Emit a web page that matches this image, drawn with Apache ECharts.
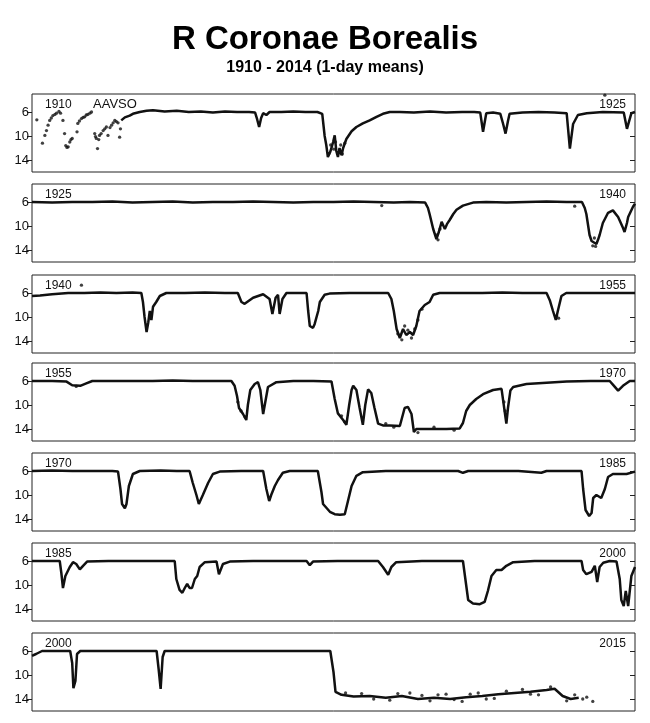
<!DOCTYPE html>
<html>
<head>
<meta charset="utf-8">
<script src="https://cdn.jsdelivr.net/npm/echarts@6/dist/echarts.min.js"></script>
<style>
  html, body { margin: 0; padding: 0; background: #fff; }
  #chart { width: 650px; height: 723px; }
</style>
</head>
<body>
<div id="chart"></div>
<script>
// panel start years (each panel spans 15 years)
const panelStarts = [1910, 1925, 1940, 1955, 1970, 1985, 2000];
const panelEndLabels = ['1925', '1940', '1955', '1970', '1985', '2000', '2015'];
const magTicks = [6, 10, 14];

// light curves, [year, magnitude]
const p1Dots = [[1910.12,7.3],[1910.26,11.2],[1910.32,9.9],[1910.36,9.1],[1910.40,8.2],[1910.44,7.4],[1910.48,7.0],[1910.52,6.6],[1910.57,6.4],[1910.61,6.2],[1910.67,5.9],[1910.71,6.2],[1910.77,7.4],[1910.81,9.6],[1910.84,11.6],[1910.87,11.9],[1910.90,11.8],[1910.94,11.0],[1910.97,10.6],[1911.00,10.4],[1911.12,9.3],[1911.14,7.9],[1911.18,7.5],[1911.23,7.1],[1911.27,6.9],[1911.31,6.8],[1911.35,6.5],[1911.39,6.4],[1911.44,6.2],[1911.48,6.0],[1911.56,9.6],[1911.58,10.1],[1911.60,10.4],[1911.63,12.1],[1911.66,10.6],[1911.68,9.9],[1911.72,9.6],[1911.77,9.1],[1911.81,8.8],[1911.85,8.5],[1911.89,9.9],[1911.94,8.6],[1911.98,8.2],[1912.02,7.8],[1912.06,7.4],[1912.10,7.6],[1912.14,7.8],[1912.18,10.2],[1912.20,8.8],
  [1917.38,13.0],[1917.43,11.5],[1917.51,12.2],[1917.55,11.0],[1917.63,12.8],[1917.68,11.5],[1917.72,13.0],[1917.78,11.2],[1924.25,3.2]];
const p1Line = [[1912.22,7.4],[1912.31,6.9],[1912.43,6.6],[1912.51,6.3],[1912.68,6.0],[1912.85,5.8],[1913.01,5.7],[1913.3,5.9],[1913.6,5.8],[1913.9,6.0],[1914.2,5.9],[1914.5,6.1],[1914.8,5.9],[1915.1,6.0],[1915.4,6.0],[1915.55,6.1],[1915.6,7.2],[1915.65,8.5],[1915.7,7.0],[1915.75,6.2],[1915.83,6.5],[1915.91,6.0],[1916.2,6.0],[1916.5,5.9],[1916.8,6.0],[1917.1,6.0],[1917.22,6.3],[1917.28,10.0],[1917.32,11.5],[1917.36,13.5],[1917.41,12.8],[1917.45,12.0],[1917.49,11.0],[1917.53,9.9],[1917.57,12.5],[1917.61,13.5],[1917.65,12.0],[1917.70,13.2],[1917.74,12.0],[1917.82,10.5],[1917.95,9.2],[1918.07,8.5],[1918.23,7.9],[1918.40,7.4],[1918.57,6.8],[1918.73,6.3],[1918.90,6.0],[1919.15,6.0],[1919.5,6.1],[1919.9,5.9],[1920.3,6.1],[1920.7,6.0],[1921.0,6.0],[1921.15,6.1],[1921.22,9.3],[1921.30,6.2],[1921.47,6.1],[1921.65,6.3],[1921.72,8.0],[1921.78,9.6],[1921.84,7.5],[1921.88,6.3],[1922.2,6.1],[1922.6,6.0],[1923.0,6.1],[1923.3,6.2],[1923.38,12.1],[1923.46,8.0],[1923.58,6.5],[1923.8,6.2],[1924.2,6.0],[1924.72,6.1],[1924.80,8.8],[1924.91,6.2],[1925.0,6.0]];

const p2Dots = [[1935.05,11.5],[1935.10,12.3],[1935.15,10.5],[1938.95,13.3],[1938.99,12.0],[1939.02,13.4],[1938.50,6.7],[1933.7,6.6]];
const p2Line = [[1925,6.0],[1925.5,6.1],[1926,6.0],[1926.5,6.0],[1927,5.9],[1927.5,6.1],[1928,6.0],[1928.5,5.9],[1929,6.1],[1929.5,6.0],[1930,6.0],[1930.5,5.9],[1931,6.0],[1931.5,6.1],[1932,6.0],[1932.5,6.0],[1933,5.9],[1933.5,6.0],[1934.0,6.1],[1934.4,6.0],[1934.78,6.1],[1934.85,7.0],[1934.89,8.0],[1934.98,10.5],[1935.06,12.2],[1935.12,11.0],[1935.19,9.3],[1935.23,9.6],[1935.27,10.5],[1935.33,9.6],[1935.39,9.0],[1935.48,8.0],[1935.56,7.3],[1935.72,6.6],[1935.97,6.1],[1936.3,6.0],[1936.8,6.1],[1937.3,6.0],[1937.8,5.9],[1938.3,6.0],[1938.68,6.0],[1938.75,7.0],[1938.79,8.0],[1938.87,11.5],[1938.92,12.5],[1938.96,12.8],[1939.04,13.0],[1939.08,12.3],[1939.12,11.5],[1939.20,9.5],[1939.33,7.8],[1939.45,7.4],[1939.58,8.5],[1939.70,10.3],[1939.74,11.0],[1939.80,9.5],[1939.83,8.5],[1939.95,6.8],[1940.0,6.3]];

const p3Dots = [[1941.23,4.7],[1949.10,12.8],[1949.20,13.8],[1949.27,11.5],[1949.35,12.2],[1949.44,13.5],[1949.52,12.0],[1949.60,10.5],[1949.70,8.7],[1953.05,9.8],[1953.10,10.2]];
const p3Line = [[1940,6.5],[1940.2,6.4],[1940.5,6.2],[1940.9,6.0],[1941.3,6.0],[1941.7,5.9],[1942.1,6.0],[1942.5,5.9],[1942.72,6.0],[1942.76,7.5],[1942.80,10.0],[1942.85,12.5],[1942.89,11.0],[1942.93,9.0],[1942.97,10.5],[1943.01,8.3],[1943.09,7.5],[1943.18,6.5],[1943.34,6.0],[1943.8,6.0],[1944.3,5.9],[1944.8,6.0],[1945.12,6.0],[1945.21,7.5],[1945.29,7.8],[1945.50,6.8],[1945.75,6.2],[1945.91,7.0],[1945.98,9.5],[1946.06,6.8],[1946.12,6.3],[1946.16,9.5],[1946.23,7.0],[1946.33,6.0],[1946.83,6.0],[1946.87,9.0],[1946.91,11.5],[1946.99,11.8],[1947.03,11.2],[1947.07,11.0],[1947.12,9.0],[1947.16,7.5],[1947.28,6.3],[1947.4,6.1],[1947.9,6.0],[1948.4,6.0],[1948.86,6.0],[1948.94,7.0],[1949.00,9.0],[1949.07,12.0],[1949.15,13.5],[1949.23,12.0],[1949.31,13.0],[1949.40,12.5],[1949.48,13.0],[1949.56,11.5],[1949.64,9.0],[1949.77,8.0],[1949.89,7.5],[1949.98,6.3],[1950.14,6.0],[1950.7,6.0],[1951.2,6.0],[1951.7,5.9],[1952.2,6.0],[1952.8,6.0],[1952.88,7.2],[1952.96,9.0],[1953.03,10.5],[1953.08,9.0],[1953.17,6.5],[1953.29,6.0],[1953.8,6.0],[1954.4,6.0],[1955,6.0]];

const p4Dots = [[1960.12,9.5],[1960.20,11.0],[1960.30,12.0],[1962.70,11.8],[1962.78,12.8],[1963.80,13.1],[1964.00,13.7],[1964.60,14.6],[1965.00,13.7],[1965.50,14.2],[1966.74,9.5],[1966.77,11.0],[1956.10,6.9]];
const p4Line = [[1955,6.0],[1955.5,6.0],[1955.86,6.1],[1956.0,6.7],[1956.2,6.8],[1956.35,6.4],[1956.5,6.0],[1957,6.0],[1957.5,6.0],[1958,6.0],[1958.5,5.9],[1959,6.0],[1959.5,6.0],[1959.96,6.0],[1960.04,6.8],[1960.10,8.5],[1960.15,10.5],[1960.25,11.5],[1960.33,12.5],[1960.37,10.0],[1960.43,7.5],[1960.54,6.5],[1960.62,6.2],[1960.68,7.5],[1960.75,11.5],[1960.79,10.0],[1960.87,7.0],[1961.08,6.2],[1961.5,6.0],[1962,6.0],[1962.45,6.1],[1962.53,9.0],[1962.61,11.4],[1962.74,12.5],[1962.82,13.3],[1962.89,10.0],[1962.95,7.5],[1962.99,6.8],[1963.07,7.5],[1963.15,10.5],[1963.23,13.3],[1963.29,10.0],[1963.36,7.4],[1963.44,8.0],[1963.52,10.5],[1963.61,13.1],[1963.73,13.4],[1963.90,13.4],[1964.15,13.5],[1964.27,10.5],[1964.35,10.3],[1964.44,11.5],[1964.50,14.5],[1964.56,14.0],[1964.89,14.0],[1965.31,14.0],[1965.64,13.9],[1965.72,13.0],[1965.80,11.0],[1965.89,10.0],[1966.05,9.0],[1966.22,8.2],[1966.47,7.5],[1966.68,7.3],[1966.72,7.6],[1966.80,13.1],[1966.84,10.5],[1966.90,7.6],[1966.97,7.0],[1967.3,6.5],[1967.8,6.3],[1968.3,6.1],[1968.9,6.0],[1969.37,6.0],[1969.45,6.6],[1969.58,7.6],[1969.70,6.8],[1969.87,6.0],[1970,6.0]];

const p5Dots = [];
const p5Line = [[1970,6.0],[1970.5,5.9],[1971,6.0],[1971.5,6.0],[1972.0,6.0],[1972.14,6.1],[1972.20,9.0],[1972.24,11.5],[1972.31,12.2],[1972.35,11.5],[1972.41,8.5],[1972.51,6.5],[1972.68,6.0],[1973.2,5.9],[1973.6,6.0],[1973.92,6.0],[1974.00,8.0],[1974.09,10.0],[1974.15,11.5],[1974.25,10.0],[1974.38,8.0],[1974.50,6.5],[1974.67,6.1],[1975.2,6.0],[1975.75,6.0],[1975.83,9.0],[1975.90,11.0],[1975.95,10.0],[1976.04,8.5],[1976.12,7.5],[1976.24,6.3],[1976.41,6.0],[1976.8,6.0],[1977.11,6.0],[1977.20,9.5],[1977.24,11.5],[1977.28,11.8],[1977.41,12.8],[1977.53,13.2],[1977.66,13.3],[1977.78,13.2],[1977.86,11.0],[1977.95,8.5],[1978.07,6.8],[1978.23,6.2],[1978.8,6.0],[1979.4,6.0],[1980.0,6.0],[1980.6,6.0],[1980.72,6.3],[1980.85,6.0],[1981.5,6.0],[1982.1,6.0],[1982.67,6.3],[1982.8,6.0],[1983.3,6.0],[1983.67,6.0],[1983.71,9.0],[1983.77,12.5],[1983.86,13.5],[1983.92,13.0],[1983.96,10.5],[1984.04,10.0],[1984.16,10.5],[1984.25,9.0],[1984.33,7.0],[1984.45,6.5],[1984.79,6.5],[1985.0,6.1]];

const p6Dots = [];
const p6Line = [[1985,6.0],[1985.3,6.0],[1985.69,6.0],[1985.73,8.0],[1985.77,10.5],[1985.83,8.5],[1985.94,7.0],[1986.02,6.2],[1986.10,6.5],[1986.19,7.4],[1986.27,6.8],[1986.37,6.1],[1986.9,6.0],[1987.5,6.0],[1988.0,6.0],[1988.55,6.0],[1988.59,9.0],[1988.67,10.8],[1988.74,11.3],[1988.80,10.5],[1988.86,9.8],[1988.92,10.5],[1988.98,10.5],[1989.05,9.0],[1989.11,8.5],[1989.17,7.0],[1989.30,6.2],[1989.59,6.1],[1989.65,8.2],[1989.75,6.5],[1989.92,6.1],[1990.5,6.0],[1991.2,6.0],[1991.83,6.0],[1991.91,6.7],[1991.99,6.1],[1992.6,6.0],[1993.2,6.0],[1993.61,6.0],[1993.73,7.0],[1993.86,8.3],[1993.94,7.0],[1994.06,6.2],[1994.7,6.0],[1995.3,6.0],[1995.72,6.0],[1995.78,9.0],[1995.85,12.5],[1995.97,13.1],[1996.14,13.2],[1996.26,12.8],[1996.34,11.0],[1996.43,8.5],[1996.55,7.5],[1996.68,7.5],[1996.80,6.8],[1996.97,6.2],[1997.5,6.0],[1998.1,6.0],[1998.67,6.0],[1998.71,7.5],[1998.79,8.2],[1998.92,7.8],[1999.0,6.8],[1999.06,9.5],[1999.12,7.0],[1999.21,6.3],[1999.37,6.0],[1999.54,6.1],[1999.62,9.0],[1999.66,12.5],[1999.72,13.5],[1999.77,11.0],[1999.83,13.5],[1999.87,11.0],[1999.91,8.5],[2000,7.0]];

const p7Dots = [[2007.8,13.0],[2008.2,13.1],[2008.5,14.0],[2008.9,14.2],[2009.1,13.1],[2009.4,13.0],[2009.7,13.4],[2009.9,14.3],[2010.1,13.3],[2010.3,13.2],[2010.5,14.1],[2010.7,14.4],[2010.9,13.2],[2011.1,13.0],[2011.3,14.0],[2011.5,13.9],[2011.8,12.7],[2012.2,12.4],[2012.4,13.2],[2012.6,13.3],[2012.9,12.0],[2013.3,14.3],[2013.5,13.3],[2013.7,14.0],[2013.8,13.7],[2013.95,14.4]];
const p7Line = [[2000,6.8],[2000.1,6.5],[2000.25,6.0],[2000.6,6.0],[2000.95,6.0],[2001.0,8.0],[2001.03,12.2],[2001.08,11.0],[2001.12,6.5],[2001.2,6.0],[2001.8,6.0],[2002.4,6.0],[2003.1,6.0],[2003.15,9.0],[2003.2,12.3],[2003.25,7.0],[2003.3,6.0],[2004,6.0],[2004.7,6.0],[2005.4,6.0],[2006.1,6.0],[2006.8,6.0],[2007.42,6.0],[2007.5,9.5],[2007.55,12.8],[2007.7,13.3],[2008.0,13.6],[2008.4,13.5],[2008.8,13.8],[2009.2,13.5],[2009.6,14.0],[2010.0,13.8],[2010.4,14.0],[2010.8,13.7],[2011.2,13.5],[2011.6,13.2],[2012.0,13.0],[2012.4,12.8],[2012.8,12.5],[2013.0,12.3],[2013.2,13.5],[2013.4,14.0],[2013.6,13.8]];

const lines = [p1Line, p2Line, p3Line, p4Line, p5Line, p6Line, p7Line];
const dots = [p1Dots, p2Dots, p3Dots, p4Dots, p5Dots, p6Dots, p7Dots];

const panelTops = [94, 184, 275, 363, 453, 543, 633];
const panelH = 78;

const chart = echarts.init(document.getElementById('chart'));
const grids = [], xAxes = [], yAxes = [], series = [], texts = [];

panelStarts.forEach((start, i) => {
  grids.push({left: 32, width: 603, top: panelTops[i], height: panelH, show: true, borderColor: '#222', borderWidth: 1});
  xAxes.push({type: 'value', gridIndex: i, min: start, max: start + 15,
    axisLine: {show: false}, axisTick: {show: false}, axisLabel: {show: false}, splitLine: {show: false}});
  yAxes.push({type: 'value', gridIndex: i, inverse: true, min: 3, max: 16, position: 'left',
    axisLine: {show: false}, splitLine: {show: false},
    axisTick: {show: true, length: 5, lineStyle: {color: '#222'}, customValues: magTicks},
    axisLabel: {show: true, margin: 3, fontSize: 13, color: '#111', fontFamily: 'Liberation Sans, Arial', customValues: magTicks}});
  yAxes.push({type: 'value', gridIndex: i, inverse: true, min: 3, max: 16, position: 'right',
    axisLine: {show: false}, splitLine: {show: false}, axisLabel: {show: false},
    axisTick: {show: true, inside: true, length: 5, lineStyle: {color: '#222'}, customValues: magTicks}});
  series.push({type: 'line', xAxisIndex: i, yAxisIndex: i * 2, data: lines[i], showSymbol: false,
    lineStyle: {color: '#111', width: 2.5}, silent: true, animation: false});
  series.push({type: 'scatter', xAxisIndex: i, yAxisIndex: i * 2, data: dots[i], symbolSize: 3.3,
    itemStyle: {color: '#111'}, silent: true, animation: false});
  texts.push({type: 'text', left: 45, top: panelTops[i] + 5,
    style: {text: String(start), fontSize: 12, fill: '#111', fontFamily: 'Liberation Sans, Arial'}});
  texts.push({type: 'text', right: 24, top: panelTops[i] + 5,
    style: {text: panelEndLabels[i], fontSize: 12, fill: '#111', fontFamily: 'Liberation Sans, Arial'}});
});
texts.push({type: 'text', left: 93, top: panelTops[0] + 4,
  style: {text: 'AAVSO', fontSize: 13, fill: '#111', fontFamily: 'Liberation Sans, Arial'}});

chart.setOption({
  animation: false,
  backgroundColor: '#fff',
  title: [
    {text: 'R Coronae Borealis', left: 'center', top: 18,
      textStyle: {fontSize: 33, fontWeight: 'bold', color: '#000', fontFamily: 'Liberation Sans, Arial'}},
    {text: '1910 - 2014 (1-day means)', left: 'center', top: 55,
      textStyle: {fontSize: 16, fontWeight: 'bold', color: '#000', fontFamily: 'Liberation Sans, Arial'}}
  ],
  grid: grids,
  xAxis: xAxes,
  yAxis: yAxes,
  series: series,
  graphic: texts
});
</script>
</body>
</html>
